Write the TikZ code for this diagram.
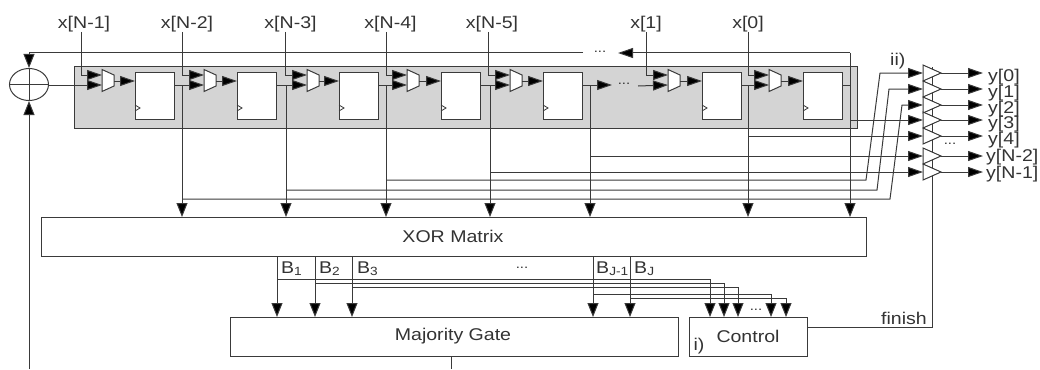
\documentclass[tikz,border=0pt]{standalone}
\usepackage{fontspec}
\setmainfont[FakeStretch=1.15]{Liberation Sans}
\usetikzlibrary{arrows.meta,shapes.geometric}
\definecolor{ln}{HTML}{3a3a3a}
\definecolor{txt}{HTML}{333333}
\tikzset{
  x=1pt,y=-1pt,
  wire/.style={draw=ln,line width=1pt},
  harr/.style={wire,-{Triangle[length=15pt,width=10pt,fill=black]}},
  varr/.style={wire,-{Triangle[length=14pt,width=11pt,fill=black]}},
  boxn/.style={draw=ln,line width=1pt,fill=white,inner sep=0pt,minimum width=#1,text=txt},
  lab/.style={text=txt,font=\fontsize{17}{20}\selectfont,inner sep=0pt},
  dots/.style={text=txt,font=\fontsize{13}{15}\selectfont,inner sep=0pt},
  gate/.style={draw=ln,line width=1pt,fill=white},
}
\begin{document}
\begin{tikzpicture}
\useasboundingbox (0,0) rectangle (1040,369);
% shift register background
\node[draw=ln,line width=1pt,fill=black!17,minimum width=783pt,minimum height=62pt,inner sep=0pt,anchor=north west] (sr) at (73.5,66) {};
% feedback XOR
\node[draw=ln,line width=1pt,ellipse,minimum width=39pt,minimum height=32pt,inner sep=0pt] (xo) at (29,84.5) {};
\draw[wire] (xo.north) -- (xo.south) (xo.west) -- (xo.east);
% main blocks
\node[boxn=825pt,minimum height=39pt,anchor=north west] (xm) at (41,217) {};
\node[lab] (xmt) at (453,236) {XOR Matrix};
\node[boxn=448pt,minimum height=39pt,anchor=north west] (mg) at (230,317) {};
\node[lab] (mgt) at (453,336) {Majority Gate};
\node[boxn=118pt,minimum height=39pt,anchor=north west] (ct) at (689,317) {};
\node[lab] (ctt) at (748,336) {Control};
\node[lab] (il) at (699,346) {i)};
% registers, muxes and inputs
\foreach \i/\m/\f/\xx/\lx/\t in {1/102/135/81/84/x[N-1],2/204/237/182/187/x[N-2],3/307/339/285/290.5/x[N-3],4/407/441/386/390.5/x[N-4],5/510/543/488/492/x[N-5],6/668/702/646/646/x[1],7/769/803/748/748/x[0]}{
  \node[lab,anchor=south] (in\i) at (\lx,32) {\t};
  \coordinate (m\i a) at (\m,75);
  \coordinate (m\i b) at (\m,85);
  \coordinate (c\i) at (\xx,75);
  \draw[harr] (in\i.south -| c\i) -- (c\i) -- (m\i a);
  \draw[gate] (\m,69.5) -- (\m+12,75) -- (\m+12,86) -- (\m,91.5) -- cycle;
  \coordinate (mo\i) at (\m+12,81);
  \node[boxn=39pt,minimum height=47pt,anchor=north west] (ff\i) at (\f,72) {};
  \draw[harr] (mo\i) -- (mo\i -| ff\i.west);
  \draw[line width=.8pt,draw=ln] (\f,105) -- (\f+5,108) -- (\f,111);
}
% register chain
\draw[harr] (xo.east |- 0,85) -- (m1b);
\draw[harr] (ff1.east |- 0,85) -- (m2b);
\draw[harr] (ff2.east |- 0,85) -- (m3b);
\draw[harr] (ff3.east |- 0,85) -- (m4b);
\draw[harr] (ff4.east |- 0,85) -- (m5b);
\coordinate (gapa) at (612,85);
\coordinate (gapb) at (638,86);
\draw[harr] (ff5.east |- 0,85) -- (gapa);
\node[dots] (d1) at (624,84) {...};
\draw[harr] (gapb) -- (m6b);
\draw[harr] (ff6.east |- 0,85) -- (m7b);
% feedback loop
\coordinate (fbr) at (850,53);
\coordinate (fbl) at (29,53);
\coordinate (fbn) at (618,53);
\coordinate (fbk) at (583,53);
\node[dots] (d2) at (600,52) {...};
\draw[harr] (fbr) -- (fbn);
\draw[varr] (fbk) -- (fbl) -- (xo.north);
\coordinate (fbb) at (29,369);
\draw[varr] (fbb) -- (xo.south);
% taps into XOR matrix
\foreach \j/\x in {1/182,2/286,3/386,4/490,5/590,6/748}{
  \coordinate (t\j) at (\x,85);
  \coordinate (tb\j) at (\x,217);
  \draw[varr] (t\j) -- (tb\j);
}
\coordinate (t7) at (850,53);
\coordinate (tb7) at (850,217);
\draw[varr] (t7) -- (tb7);
\draw[wire] (ff7.east |- 0,85) -- (850,85);
% output tristate buffers
\coordinate (en) at (932,67);
\coordinate (enb) at (932,327);
\draw[wire] (ct.east |- enb) -- (enb) -- (en);
\foreach \k/\y/\t/\xl/\yl in {0/73/y[0]/988/77,1/89/y[1]/988/93,2/105/y[2]/988/109,3/120/y[3]/988/124.5,4/136/y[4]/988/140.5,5/156/y[N-2]/986/157,6/172/y[N-1]/986/174}{
  \draw[gate] (923,\y-8) -- (941,\y) -- (923,\y+8) -- cycle;
  \coordinate (bi\k) at (923,\y);
  \coordinate (bo\k) at (941,\y);
  \node[lab,anchor=west] (yo\k) at (\xl,\yl) {\t};
  \draw[harr] (bo\k) -- (983,\y);
}
\draw[harr] (t1 |- 0,199) -- (890,199) -- (902,105) -- (bi2);
\draw[harr] (t2 |- 0,190) -- (877,190) -- (889,89) -- (bi1);
\draw[harr] (t3 |- 0,180) -- (866,180) -- (880,73) -- (bi0);
\draw[harr] (850,120) -- (bi3);
\draw[harr] (t6 |- 0,136) -- (bi4);
\draw[harr] (t5 |- 0,156) -- (bi5);
\draw[harr] (t4 |- 0,172) -- (bi6);
\node[dots] (d3) at (950,144) {...};
\node[lab,anchor=base west] (iil) at (890,66) {ii)};
% B outputs
\foreach \b/\x in {1/277,2/315,3/352,4/593,5/630}{
  \coordinate (bt\b) at (\x,257);
  \coordinate (bm\b) at (\x,317);
  \draw[varr] (bt\b) -- (bm\b);
}
\draw[varr] (277,279) -- (710,279) -- (710,317);
\draw[varr] (315,283) -- (724,283) -- (724,317);
\draw[varr] (352,287) -- (738,287) -- (738,317);
\draw[varr] (593,294) -- (771,294) -- (771,317);
\draw[varr] (630,298) -- (786,298) -- (786,317);
\node[lab,anchor=base west] (b1) at (281,273) {B\textsubscript{1}};
\node[lab,anchor=base west] (b2) at (319,273) {B\textsubscript{2}};
\node[lab,anchor=base west] (b3) at (357,273) {B\textsubscript{3}};
\node[lab,anchor=base west] (b4) at (596,273) {B\textsubscript{J-1}};
\node[lab,anchor=base west] (b5) at (634,273) {B\textsubscript{J}};
\node[dots] (d4) at (522,268) {...};
\node[dots] (d5) at (756,310) {...};
% majority output and finish
\coordinate (mgb) at (451,369);
\draw[wire] (mg.south -| mgb) -- (mgb);
\node[lab,anchor=base east] (fin) at (927,324) {finish};
\end{tikzpicture}
\end{document}
